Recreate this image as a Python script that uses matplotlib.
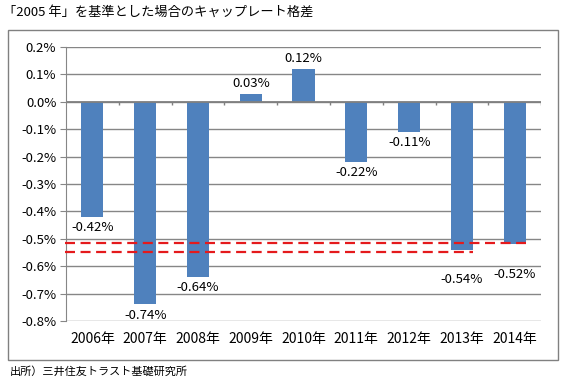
import numpy as np
import matplotlib.pyplot as plt
from matplotlib.patches import Rectangle

plt.rcParams['font.family'] = ['Noto Sans CJK JP', 'DejaVu Sans']

years = ['2006年', '2007年', '2008年', '2009年', '2010年', '2011年', '2012年', '2013年', '2014年']
gap = [-0.42, -0.74, -0.64, 0.03, 0.12, -0.22, -0.11, -0.54, -0.52]
yticks = [0.2, 0.1, 0.0, -0.1, -0.2, -0.3, -0.4, -0.5, -0.6, -0.7, -0.8]
# red dashed guide lines, drawn up to 2014 / 2013 bars
ref_levels = [-0.515, -0.548]
ref_until = [8, 7]

bar_col = '#4F81BD'
grid_col = '#868686'

fig = plt.figure(figsize=(5.69, 3.89), dpi=100)
ax = fig.add_axes([0.116, 0.175, 0.835, 0.704])

x = np.arange(len(years))
ax.bar(x, gap, width=0.42, color=bar_col, zorder=3)

ax.set_xlim(-0.5, len(years) - 0.5)
ax.set_ylim(-0.8, 0.2)
ax.set_yticks(yticks)
ax.set_yticklabels(['%.1f%%' % v for v in yticks], fontsize=9.5)
ax.set_xticks(x)
ax.set_xticklabels(years, fontsize=10)
ax.tick_params(axis='x', length=0, pad=8)
ax.tick_params(axis='y', length=4, color=grid_col, direction='out', pad=3)

ax.yaxis.grid(True, color=grid_col, lw=1)
ax.set_axisbelow(True)
for s in ['top', 'right', 'bottom']:
    ax.spines[s].set_visible(False)
ax.spines['left'].set_color(grid_col)
ax.spines['left'].set_zorder(4)

# zero line with small category ticks
ax.axhline(0, color='#808080', lw=1.3, zorder=4)
ax.vlines(x[:-1] + 0.5, -0.012, 0, color='#808080', lw=1, zorder=4)
ax.vlines([len(years) - 0.5], -0.012, 0, color='#808080', lw=1, zorder=4)

# value labels (last two pushed below the dashed lines)
for xi, v in zip(x, gap):
    if v < 0:
        off = 0.085 if xi >= 7 else 0.015
        ax.text(xi, v - off, '%.2f%%' % v, ha='center', va='top', fontsize=9.5)
    else:
        ax.text(xi, v + 0.015, '%.2f%%' % v, ha='center', va='bottom', fontsize=9.5)

for lvl, k in zip(ref_levels, ref_until):
    ax.hlines(lvl, -0.52, x[k] + 0.21, colors='#E41A1C', linestyles=(0, (4.5, 2.5)),
              lw=1.6, zorder=5, clip_on=False)

# outer frame
fig.patches.append(Rectangle((8 / 569, 1 - 360 / 389), 550 / 569, 330 / 389,
                             transform=fig.transFigure, fill=False, edgecolor='#808080', lw=1))

fig.text(3 / 569, 1 - 12 / 389, '「2005 年」を基準とした場合のキャップレート格差', fontsize=9.5, va='center', ha='left')
fig.text(10 / 569, 1 - 371 / 389, '出所）三井住友トラスト基礎研究所', fontsize=8, va='center', ha='left')

fig.savefig('out.png', dpi=100)
